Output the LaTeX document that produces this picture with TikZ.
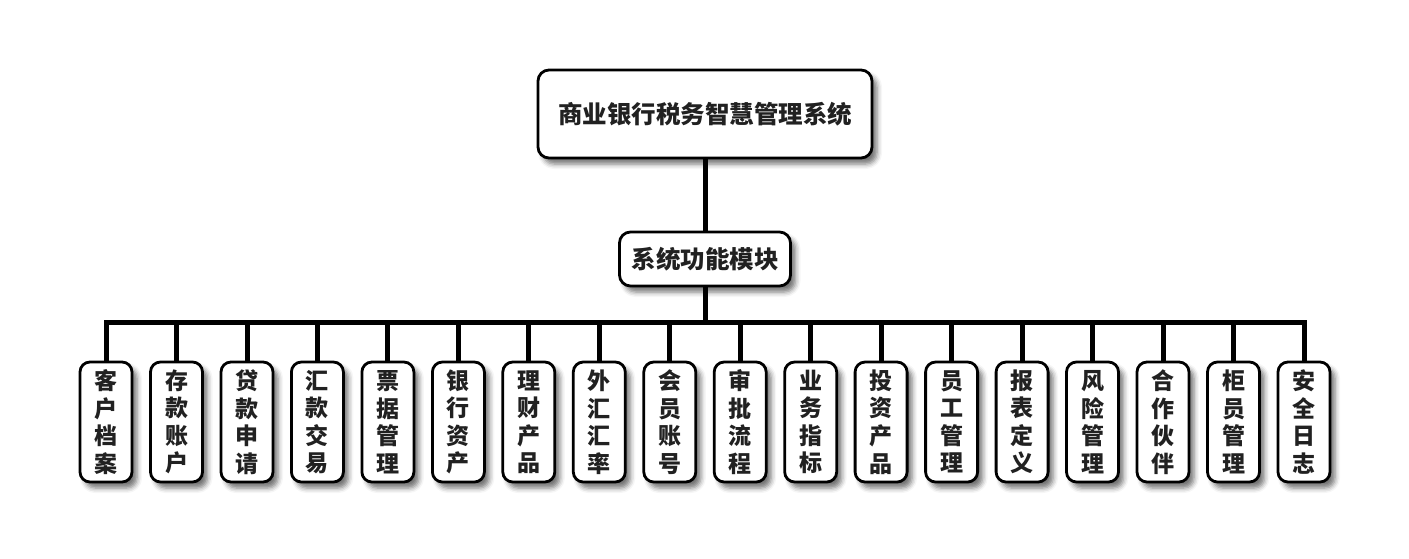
\documentclass[tikz,border=0pt]{standalone}
\usepackage{fontspec}
\setmainfont{Noto Sans CJK SC}
\usetikzlibrary{shadows,shadows.blur,backgrounds}
\definecolor{schrift}{rgb}{0.13,0.13,0.13}
\tikzstyle{kasten} = [draw=black,line width=2.8pt,fill=white,rectangle,rounded corners=11pt,inner sep=0pt,text=schrift,blur shadow={shadow xshift=5pt,shadow yshift=-6pt,shadow blur radius=5pt,shadow opacity=55}]
\tikzstyle{system} = [kasten,minimum width=334pt,minimum height=88pt,font=\bfseries\fontsize{24.5}{28}\selectfont]
\tikzstyle{modul} = [kasten,minimum width=171pt,minimum height=54pt,font=\bfseries\fontsize{24.5}{28}\selectfont]
\tikzstyle{blatt} = [kasten,rounded corners=10pt,minimum width=52pt,minimum height=120pt,align=center,font=\bfseries\fontsize{23}{27.5}\selectfont]
\tikzstyle{edge} = [line width=5pt,draw=black]

\begin{document}
\begin{tikzpicture}[x=1pt,y=-1pt]
\useasboundingbox (0,0) rectangle (1409,558);

\node[system] (S) at (705,114) {商业银行税务智慧管理系统};
\node[modul] (M) at (705,259) {系统功能模块};
\coordinate (bus) at (705,322);

\node[blatt] (B1) at (106,422) {客\\户\\档\\案};
\node[blatt] (B2) at (176.5,422) {存\\款\\账\\户};
\node[blatt] (B3) at (247,422) {贷\\款\\申\\请};
\node[blatt] (B4) at (317.4,422) {汇\\款\\交\\易};
\node[blatt] (B5) at (387.9,422) {票\\据\\管\\理};
\node[blatt] (B6) at (458.4,422) {银\\行\\资\\产};
\node[blatt] (B7) at (528.8,422) {理\\财\\产\\品};
\node[blatt] (B8) at (599.3,422) {外\\汇\\汇\\率};
\node[blatt] (B9) at (669.8,422) {会\\员\\账\\号};
\node[blatt] (B10) at (740.2,422) {审\\批\\流\\程};
\node[blatt] (B11) at (810.7,422) {业\\务\\指\\标};
\node[blatt] (B12) at (881.1,422) {投\\资\\产\\品};
\node[blatt] (B13) at (951.6,422) {员\\工\\管\\理};
\node[blatt] (B14) at (1022.1,422) {报\\表\\定\\义};
\node[blatt] (B15) at (1092.5,422) {风\\险\\管\\理};
\node[blatt] (B16) at (1163,422) {合\\作\\伙\\伴};
\node[blatt] (B17) at (1233.5,422) {柜\\员\\管\\理};
\node[blatt] (B18) at (1304,422) {安\\全\\日\\志};

% leitungen hinter die kaesten (und deren schatten)
\begin{scope}[on background layer]
\draw[edge] (S) -- (M);
\draw[edge] (M) -- (bus);
\foreach \b in {B1,B2,B3,B4,B5,B6,B7,B8,B9,B10,B11,B12,B13,B14,B15,B16,B17,B18}
  \draw[edge] (bus) -| (\b);
\end{scope}
\end{tikzpicture}
\end{document}
